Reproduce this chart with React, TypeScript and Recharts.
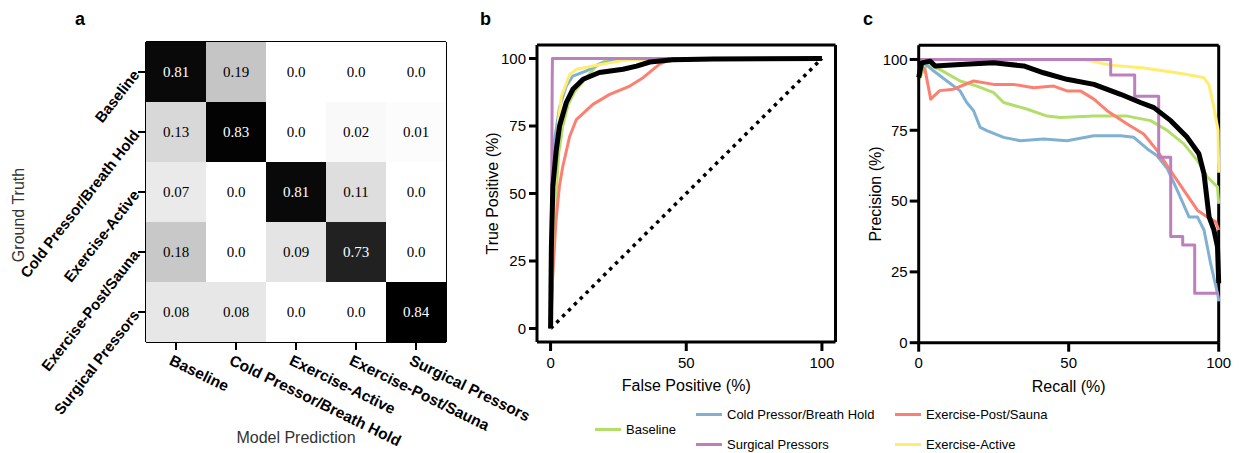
import { Label, Line, LineChart, ReferenceLine, Scatter, ScatterChart, XAxis, YAxis } from "recharts";

const FONT = '"Liberation Sans", Arial, Helvetica, sans-serif';
const SERIF = '"Liberation Serif", "Times New Roman", serif';

// ---- panel a: confusion matrix (rows = ground truth, cols = prediction)
const classNames = [
  "Baseline",
  "Cold Pressor/Breath Hold",
  "Exercise-Active",
  "Exercise-Post/Sauna",
  "Surgical Pressors",
];
const confusion = [
  [0.81, 0.19, 0.0, 0.0, 0.0],
  [0.13, 0.83, 0.0, 0.02, 0.01],
  [0.07, 0.0, 0.81, 0.11, 0.0],
  [0.18, 0.0, 0.09, 0.73, 0.0],
  [0.08, 0.08, 0.0, 0.0, 0.84],
];
const classTicks = [0, 1, 2, 3, 4];

// ---- panels b / c: series
const seriesNames = [
  "Baseline",
  "Cold Pressor/Breath Hold",
  "Exercise-Post/Sauna",
  "Surgical Pressors",
  "Exercise-Active",
];
const seriesColors = ["#b3de69", "#80b1d3", "#fb8072", "#bc80bd", "#ffed6f"];

// ROC: [false positive %, true positive %]
const rocBaseline = [[0, 0], [1, 25], [2, 50], [3, 65], [4.5, 75], [6.5, 83], [9, 88], [12, 91.5], [17, 97.5], [20, 99], [30, 99.7], [100, 100]];
const rocCold = [[0, 0], [0.5, 40], [1.5, 70], [3.3, 82], [5.8, 89.8], [8.2, 93.5], [13.2, 95.4], [18, 97.9], [24, 99.5], [35, 100], [100, 100]];
const rocPost = [[0, 0], [0.8, 20], [2, 40], [3.3, 53], [4.5, 60], [7, 71], [9.5, 77.4], [15.6, 83], [21.8, 86.7], [29.2, 89.8], [34.1, 92.9], [37.8, 96], [40.3, 98], [44, 99.5], [55, 100], [100, 100]];
const rocSurgical = [[0, 0], [0.4, 50], [0.6, 92], [0.7, 100], [100, 100]];
const rocActive = [[0, 0], [1, 40], [2, 65], [3, 78], [4, 86], [7, 94], [9.5, 96], [15.6, 97.2], [20.6, 98.2], [28, 99.5], [40, 100], [100, 100]];
const rocMean = [[0, 0], [0.3, 30], [0.85, 52.7], [2.1, 66], [3.3, 75], [5.8, 83.7], [8.2, 88.6], [12, 92.3], [18, 94.8], [26.7, 96], [31.7, 97.2], [36.6, 98.7], [45, 99.5], [60, 99.8], [100, 100]];
const rocChance = [[0, 0], [100, 100]];

// PR: [recall %, precision %]
const prBaseline = [[0, 93], [2.7, 98], [7, 96.5], [13.8, 92.4], [19.4, 90.6], [25, 88.3], [28.3, 84.8], [36, 82.5], [42.8, 80], [47.2, 79.5], [58.4, 80], [69.5, 80], [77.3, 78.4], [82.9, 74.9], [88.4, 70.2], [92.9, 64.3], [96.2, 58.5], [99.6, 55], [100, 49]];
const prCold = [[0, 98.8], [2.7, 98], [4.9, 96], [9.4, 92.4], [13.8, 88.9], [16, 84.8], [18.3, 81.9], [20.5, 76], [22.7, 74.9], [28.3, 72.5], [33.9, 71.3], [41.6, 71.9], [49.4, 71.3], [58.4, 73.1], [67.3, 73.1], [71.7, 72.5], [76.2, 68.4], [79.5, 66], [82.9, 61.4], [86.2, 53.8], [90.1, 44.4], [92.9, 44.4], [95.1, 39.8], [97.3, 28], [99.8, 16.4], [100, 14.6]];
const prPost = [[0.4, 98], [2.1, 96.5], [4, 86], [7, 89], [11.6, 89.5], [18.3, 92.4], [25, 91.2], [31.6, 91.2], [38.3, 90], [45, 90.6], [49.4, 88.9], [53.9, 88.9], [58.4, 86], [62.8, 81.9], [69.5, 77.2], [75, 73.7], [79.5, 67.8], [83.9, 60.8], [88.4, 53.8], [92.9, 46.8], [96.2, 44.4], [99, 42.7], [100, 39.8]];
const prSurgical = [[0, 100], [64, 94.5], [72, 87], [80, 65.5], [84, 37.5], [88, 34.5], [92, 17.5], [100, 17.5]];
const prActive = [[0, 100], [55, 100], [64, 98], [75, 97], [86, 95.3], [95, 93.6], [96.8, 91], [98.4, 83], [99.8, 75], [100, 60]];
const prMean = [[0, 93.6], [1, 98.8], [3.8, 99.4], [5.5, 97.7], [13.8, 98.2], [25, 98.8], [35, 97.7], [41.6, 95.3], [49.4, 93], [58.4, 91.2], [67.3, 87.7], [73.9, 84.8], [78.4, 83], [84, 78.4], [89.5, 72.5], [93.4, 66.7], [95.1, 59.6], [96.8, 44.4], [98.4, 39.8], [99.6, 33.9], [100, 21]];

const xTicks = [0, 50, 100];
const yTicks = [0, 25, 50, 75, 100];

const pts = (a: number[][]) => a.map(([x, y]) => ({ x, y }));

const greyFor = (v: number) => {
  const g = Math.round(255 * (1 - Math.min(v / 0.84, 1)));
  return `rgb(${g},${g},${g})`;
};
const fmt = (v: number) => (v === 0 ? "0.0" : String(v));

const HEAT_SIZE = 300;

function HeatCell({ cx, cy, payload }: any) {
  const s = HEAT_SIZE / classNames.length;
  const v = payload.v;
  return (
    <g>
      <rect x={cx - s / 2} y={cy - s / 2} width={s} height={s} fill={greyFor(v)} />
      <text
        x={cx}
        y={cy}
        dy="0.35em"
        textAnchor="middle"
        fontFamily={SERIF}
        fontSize={15}
        fill={v > 0.5 ? "#fff" : "#000"}
      >
        {fmt(v)}
      </text>
    </g>
  );
}

function RowTick({ x, y, payload }: any) {
  return (
    <text
      x={x}
      y={y}
      dy="0.35em"
      textAnchor="end"
      transform={`rotate(-52, ${x}, ${y})`}
      fontFamily={FONT}
      fontWeight="bold"
      fontSize={15}
      fill="#000"
    >
      {classNames[payload.value]}
    </text>
  );
}

function ColTick({ x, y, payload }: any) {
  const ax = x - 3;
  const ay = y + 2;
  return (
    <text
      x={ax}
      y={ay}
      dy="0.71em"
      textAnchor="start"
      transform={`rotate(26, ${ax}, ${ay})`}
      fontFamily={FONT}
      fontWeight="bold"
      fontSize={15.5}
      fill="#000"
    >
      {classNames[payload.value]}
    </text>
  );
}

// rotated y-axis title, centred on the axis band
function SideTitle({ viewBox, value, dx = 0, dy = 0, size = 16, color = "#000" }: any) {
  const cx = viewBox.x + dx;
  const cy = viewBox.y + viewBox.height / 2 + dy;
  return (
    <text
      x={cx}
      y={cy}
      dy="0.35em"
      textAnchor="middle"
      transform={`rotate(-90, ${cx}, ${cy})`}
      fontFamily={FONT}
      fontSize={size}
      fill={color}
    >
      {value}
    </text>
  );
}

function ConfusionPanel() {
  const data = confusion.flatMap((row, r) => row.map((v, c) => ({ col: c, row: r, v })));
  const border = { stroke: "#000", strokeWidth: 2 };
  return (
    <ScatterChart width={560} height={453} margin={{ top: 42, right: 114, bottom: 0, left: 0 }}>
      <XAxis
        type="number"
        dataKey="col"
        domain={[-0.5, 4.5]}
        ticks={classTicks}
        interval={0}
        height={111}
        tickSize={8}
        axisLine={border}
        tickLine={border}
        tick={<ColTick />}
      >
        <Label
          value="Model Prediction"
          position="insideBottom"
          offset={10}
          style={{ fontFamily: FONT, fontSize: 16, fill: "#333" }}
        />
      </XAxis>
      <YAxis
        type="number"
        dataKey="row"
        reversed
        domain={[-0.5, 4.5]}
        ticks={classTicks}
        interval={0}
        width={146}
        tickSize={8}
        axisLine={border}
        tickLine={border}
        tick={<RowTick />}
      >
        <Label content={(p: any) => <SideTitle {...p} value="Ground Truth" dx={18} dy={23} color="#333" />} />
      </YAxis>
      <Scatter data={data} shape={<HeatCell />} isAnimationActive={false} />
      {/* closing edges of the frame */}
      <ReferenceLine y={-0.5} stroke="#000" strokeWidth={2} />
      <ReferenceLine x={4.5} stroke="#000" strokeWidth={2} />
    </ScatterChart>
  );
}

function curve(key: string, data: number[][], color: string, width = 3, type: any = "linear") {
  return (
    <Line
      key={key}
      data={pts(data)}
      dataKey="y"
      type={type}
      stroke={color}
      strokeWidth={width}
      strokeLinejoin="round"
      dot={false}
      activeDot={false}
      isAnimationActive={false}
    />
  );
}

const axisStroke = { stroke: "#000", strokeWidth: 3 };
const tickStyle = { fill: "#000", fontSize: 15, fontFamily: FONT };

function RocPanel() {
  return (
    <LineChart width={380} height={453} margin={{ top: 45, right: 14.5, bottom: 62, left: 0 }}>
      <XAxis
        type="number"
        dataKey="x"
        domain={[-5, 105]}
        ticks={xTicks}
        height={49}
        tickSize={9}
        tickMargin={6}
        axisLine={axisStroke}
        tickLine={axisStroke}
        tick={tickStyle}
      >
        <Label value="False Positive (%)" position="insideBottom" offset={0} style={{ fontFamily: FONT, fontSize: 16, fill: "#000" }} />
      </XAxis>
      <YAxis
        type="number"
        domain={[-5, 105]}
        ticks={yTicks}
        width={67}
        tickSize={8}
        tickMargin={3}
        axisLine={axisStroke}
        tickLine={axisStroke}
        tick={tickStyle}
      >
        <Label content={(p: any) => <SideTitle {...p} value="True Positive (%)" dx={22} />} />
      </YAxis>
      <ReferenceLine y={105} stroke="#000" strokeWidth={3} />
      <ReferenceLine x={105} stroke="#000" strokeWidth={3} />
      <Line
        data={pts(rocChance)}
        dataKey="y"
        stroke="#000"
        strokeWidth={3.5}
        strokeDasharray="3.5 4.8"
        dot={false}
        activeDot={false}
        isAnimationActive={false}
      />
      {curve("b", rocBaseline, seriesColors[0])}
      {curve("c", rocCold, seriesColors[1])}
      {curve("p", rocPost, seriesColors[2])}
      {curve("a", rocActive, seriesColors[4])}
      {curve("s", rocSurgical, seriesColors[3])}
      {curve("m", rocMean, "#000", 5)}
    </LineChart>
  );
}

function PrPanel() {
  return (
    <LineChart width={398} height={453} margin={{ top: 45.3, right: 29.3, bottom: 61.3, left: 0 }}>
      <XAxis
        type="number"
        dataKey="x"
        domain={[0, 100]}
        ticks={xTicks}
        height={49}
        tickSize={9}
        tickMargin={6}
        axisLine={axisStroke}
        tickLine={axisStroke}
        tick={tickStyle}
      >
        <Label value="Recall (%)" position="insideBottom" offset={0} style={{ fontFamily: FONT, fontSize: 16, fill: "#000" }} />
      </XAxis>
      <YAxis
        type="number"
        domain={[0, 105]}
        ticks={yTicks}
        width={68.7}
        tickSize={9}
        tickMargin={2}
        axisLine={axisStroke}
        tickLine={axisStroke}
        tick={tickStyle}
      >
        <Label content={(p: any) => <SideTitle {...p} value="Precision (%)" dx={25} />} />
      </YAxis>
      <ReferenceLine y={105} stroke="#000" strokeWidth={3} />
      <ReferenceLine x={100} stroke="#000" strokeWidth={3} />
      {curve("b", prBaseline, seriesColors[0])}
      {curve("c", prCold, seriesColors[1])}
      {curve("p", prPost, seriesColors[2])}
      {curve("a", prActive, seriesColors[4])}
      {curve("s", prSurgical, seriesColors[3], 3, "stepAfter")}
      {curve("m", prMean, "#000", 5)}
    </LineChart>
  );
}

function LegendItem({ name, color, style }: { name: string; color: string; style?: any }) {
  return (
    <div style={{ display: "flex", alignItems: "center", gap: 5, ...style }}>
      <span style={{ display: "inline-block", width: 26, height: 3, background: color }} />
      <span>{name}</span>
    </div>
  );
}

export default function App() {
  return (
    <div style={{ position: "absolute", left: 0, top: 0, width: 1248, height: 453, background: "#fff", overflow: "hidden" }}>
      <div style={{ position: "absolute", left: 0, top: 0 }}>
        <ConfusionPanel />
      </div>
      <div style={{ position: "absolute", left: 470, top: 0 }}>
        <RocPanel />
      </div>
      <div style={{ position: "absolute", left: 850, top: 0 }}>
        <PrPanel />
      </div>

      {/* panel letters */}
      <svg width={1248} height={40} style={{ position: "absolute", left: 0, top: 0, pointerEvents: "none" }}>
        <text x={75} y={25} fontFamily={FONT} fontWeight="bold" fontSize={18}>a</text>
        <text x={480} y={25} fontFamily={FONT} fontWeight="bold" fontSize={18}>b</text>
        <text x={863} y={25} fontFamily={FONT} fontWeight="bold" fontSize={18}>c</text>
      </svg>

      {/* shared legend */}
      <div
        style={{
          position: "absolute",
          left: 595,
          top: 399,
          display: "grid",
          gridTemplateColumns: "101px 199px auto",
          gridTemplateRows: "30px 30px",
          alignItems: "center",
          fontFamily: FONT,
          fontSize: 13,
          color: "#000",
        }}
      >
        <LegendItem name={seriesNames[0]} color={seriesColors[0]} style={{ gridRow: "1 / span 2", gridColumn: 1 }} />
        <LegendItem name={seriesNames[1]} color={seriesColors[1]} style={{ gridRow: 1, gridColumn: 2 }} />
        <LegendItem name={seriesNames[2]} color={seriesColors[2]} style={{ gridRow: 1, gridColumn: 3 }} />
        <LegendItem name={seriesNames[3]} color={seriesColors[3]} style={{ gridRow: 2, gridColumn: 2 }} />
        <LegendItem name={seriesNames[4]} color={seriesColors[4]} style={{ gridRow: 2, gridColumn: 3 }} />
      </div>
    </div>
  );
}
